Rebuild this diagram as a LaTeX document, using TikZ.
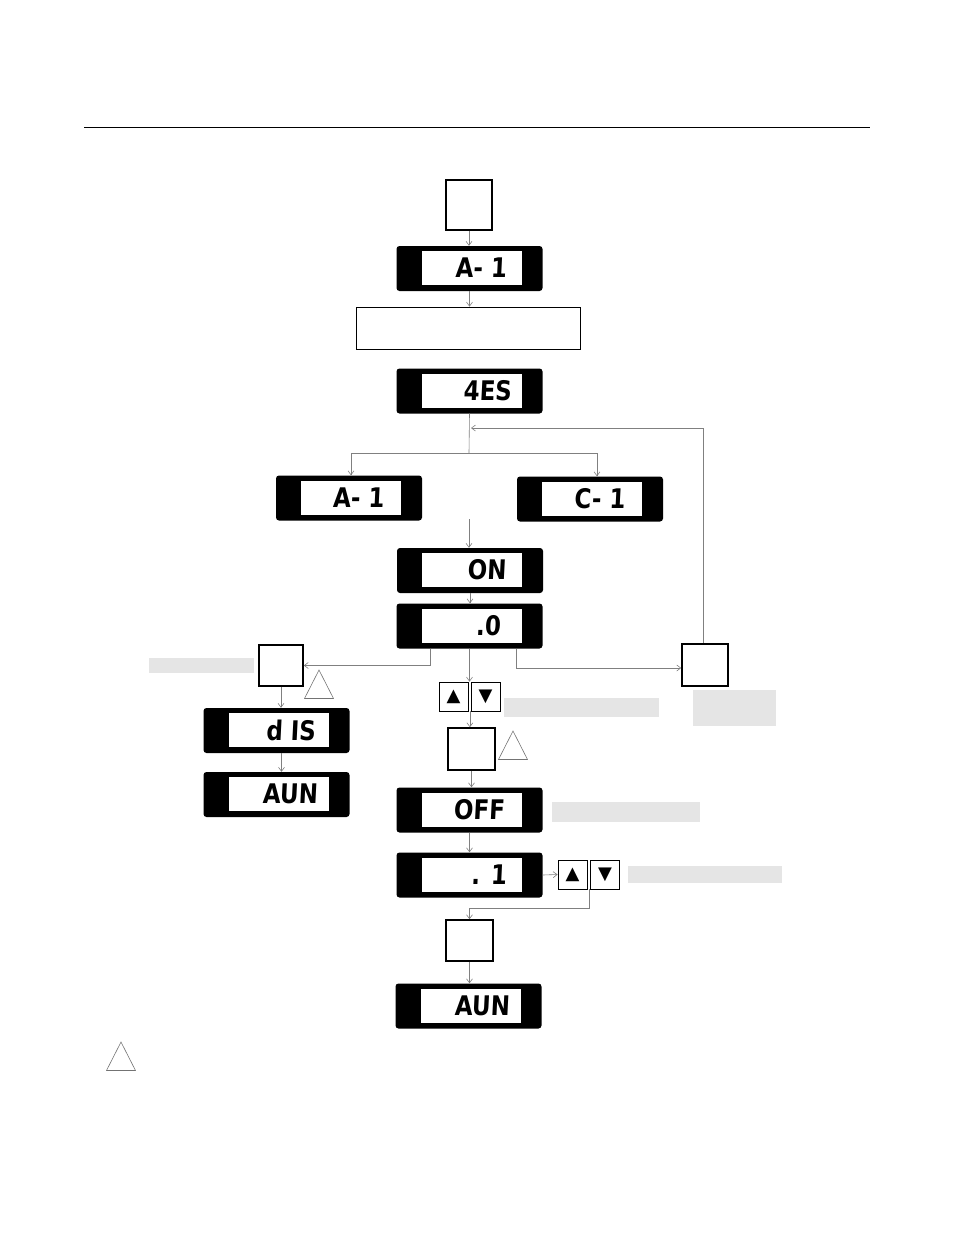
\documentclass[tikz,border=0pt]{standalone}
\usepackage{fontspec}
\usetikzlibrary{arrows.meta}
\newfontfamily\lcdfont[FakeSlant=0.05,FakeStretch=0.85]{DejaVu Sans}
\newfontfamily\symfont{DejaVu Sans}
\begin{document}
\begin{tikzpicture}[x=1pt,y=-1pt,
  lcdbox/.style={fill=black,rounded corners=3pt,minimum width=146pt,minimum height=45pt,inner sep=0pt},
  lcdwin/.style={fill=white,minimum width=100pt,minimum height=34pt,inner sep=0pt},
  lcdtext/.style={inner sep=0pt,anchor=east,font=\lcdfont\bfseries\fontsize{27}{27}\selectfont},
  keybox/.style={draw,line width=1.6pt,fill=white,inner sep=0pt},
  arrkey/.style={draw,line width=0.8pt,minimum size=29pt,inner sep=0pt,font=\symfont\fontsize{18}{18}\selectfont},
  flow/.style={draw=black!50,line width=0.6pt,-{Straight Barb[length=4pt,width=6pt]}},
  wire/.style={draw=black!50,line width=0.6pt},
  warn/.style={draw=black!55,line width=0.6pt},
  shade/.style={fill=black!10}]%
\useasboundingbox (0,0) rectangle (954,1235);
% display: name, centre, text, text offset
\def\lcd#1#2#3#4{%
  \node[lcdbox] (#1) at (#2) {};
  \node[lcdwin] (#1w) at ([xshift=2pt,yshift=0.5pt]#1.center) {};
  \node[lcdtext] (#1t) at ([xshift=#4pt]#1w.east) {#3};}
\draw[line width=0.8pt] (84,127) -- (870,127);
\node[keybox,minimum width=46pt,minimum height=50pt] (k1) at (469,205) {};
\lcd{lcdA}{469.5,268.5}{A- 1}{-15}
\node[draw,line width=0.8pt,minimum width=224pt,minimum height=42pt] (note) at (468,328) {};
\lcd{yes}{469.5,391}{4ES}{-10}
\lcd{ltA}{349,498}{A- 1}{-17}
\lcd{ltC}{590,499}{C- 1}{-17}
\lcd{on}{470,570.5}{ON}{-16}
\lcd{zero}{469.5,626}{.0}{-21}
\node[keybox,minimum width=44pt,minimum height=41pt] (k2) at (281,665.5) {};
\node[keybox,minimum width=46pt,minimum height=42pt] (k4) at (705,665) {};
\node[arrkey] (up) at (453.5,696.5) {▲};
\node[arrkey] (dn) at (485.5,696.5) {▼};
\node[keybox,minimum width=47pt,minimum height=42pt] (k3) at (471.5,749) {};
\lcd{dis}{276.5,730.5}{d IS}{-13}
\lcd{runl}{276.5,794.5}{AUN}{-11}
\lcd{off}{469.5,810}{OFF}{-17}
\lcd{p1}{469.5,875}{. 1}{-15}
\node[arrkey] (up2) at (572.5,874.5) {▲};
\node[arrkey] (dn2) at (605,874.5) {▼};
\node[keybox,minimum width=47pt,minimum height=41pt] (k5) at (469.5,940.5) {};
\lcd{run}{468.5,1006}{AUN}{-11}
% grey panels
\fill[shade] (149,658) rectangle (254,673);
\fill[shade] (504,698) rectangle (659,717);
\fill[shade] (693,690) rectangle (776,726);
\fill[shade] (552,802) rectangle (700,822);
\fill[shade] (628,866) rectangle (782,883);
\foreach \x/\y in {319/670,513/731,121/1042}
  \draw[warn] (\x,\y) -- ++(-14.5,28.5) -- ++(29,0) -- cycle;
% connectors
\draw[flow] (k1.south) -- (k1.south |- lcdA.north);
\draw[flow] (lcdA.south) -- (lcdA.south |- note.north);
\coordinate (j) at (469,453);
\coordinate (rt) at (471,428);
\coordinate (ins) at (469,519);
\draw[wire] (yes.south) -- (j);
\draw[flow] (j) -| ([xshift=2pt]ltA.north);
\draw[flow] (j) -| ([xshift=7pt]ltC.north);
\draw[flow] ([xshift=-2pt]k4.north) |- (rt);
\draw[flow] (ins) -- (ins |- on.north);
\draw[flow] (on.south) -- (on.south |- zero.north);
\draw[flow] ([xshift=-39.5pt]zero.south) |- (k2.east);
\draw[flow] ([xshift=46.5pt]zero.south) |- ([yshift=-3pt]k4.west);
\draw[flow] (zero.south) -- (zero.south |- up.north);
\draw[flow] ([xshift=1.5pt]up.south east) -- ([xshift=1.5pt]up.south east |- k3.north);
\draw[flow] (k2.south) -- (k2.south |- dis.north);
\draw[flow] ([xshift=5pt]dis.south) -- ([xshift=5pt]dis.south |- runl.north);
\draw[flow] (k3.south) -- (k3.south |- off.north);
\draw[flow] (off.south) -- (off.south |- p1.north);
\draw[flow] (p1.east) -- (up2.west);
\draw[flow] ([xshift=1.5pt]up2.south east) -- ++(0,19) -| (k5.north);
\draw[flow] (k5.south) -- (k5.south |- run.north);
\end{tikzpicture}
\end{document}
